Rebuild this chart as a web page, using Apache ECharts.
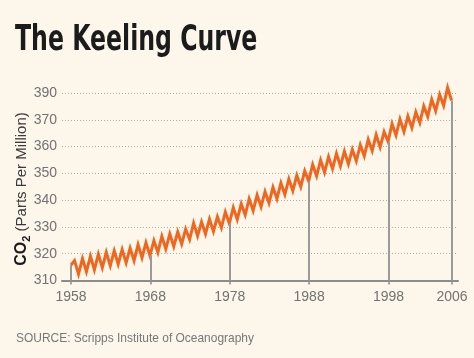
<!DOCTYPE html>
<html>
<head>
<meta charset="utf-8">
<script src="https://cdn.jsdelivr.net/npm/echarts@6/dist/echarts.min.js"></script>
<style>
  html, body { margin: 0; padding: 0; background: #fdf6eb; }
  #chart { width: 474px; height: 358px; }
</style>
</head>
<body>
<div id="chart"></div>
<script>
// ---- Data ----
const titleText = 'The Keeling Curve';
const sourceText = 'SOURCE: Scripps Institute of Oceanography';
const firstYear = 1958;
const startValue = 315.8;           // value at the very start of 1958
// seasonal maxima (around mid-year) per year, 1958..2005
const peakValues = [
  317.4, 318.2, 319.1, 319.8, 320.5, 321.1, 321.6, 322.1, 323.4, 324.1,
  324.9, 326.5, 327.4, 328.1, 329.2, 331.4, 331.9, 332.9, 333.8, 335.6,
  337.2, 338.6, 340.5, 341.9, 343.2, 344.8, 346.4, 347.9, 349.2, 350.9,
  353.3, 354.9, 356.2, 357.4, 358.2, 358.9, 360.6, 362.6, 364.4, 365.5,
  368.5, 370.2, 371.3, 372.9, 375.1, 377.6, 379.4, 382.0
];
// seasonal minima (around year end) per year, 1958..2005
const troughValues = [
  312.4, 313.3, 314.0, 314.8, 315.5, 316.1, 316.6, 317.4, 318.5, 319.3,
  320.5, 321.8, 322.7, 323.6, 325.3, 326.6, 327.4, 328.3, 329.7, 331.3,
  332.8, 334.5, 336.1, 337.5, 338.9, 340.5, 342.1, 343.5, 345.0, 347.1,
  349.0, 350.4, 351.7, 352.7, 353.5, 354.6, 356.5, 358.4, 359.8, 361.9,
  364.2, 365.6, 367.0, 368.9, 371.2, 373.3, 375.3, 377.2
];
const peakOffset = 0.45;   // time of year of the maximum
const troughOffset = 0.95; // time of year of the minimum
const xTickYears = [1958, 1968, 1978, 1988, 1998, 2006];
const yTickValues = [310, 320, 330, 340, 350, 360, 370, 380];
const yTickLabels = ['310', '320', '330', '340', '350', '360', '370', '390'];

// ---- Build series from the arrays ----
const curve = [[firstYear, startValue]];
for (let i = 0; i < peakValues.length; i++) {
  curve.push([firstYear + i + peakOffset, peakValues[i]]);
  curve.push([firstYear + i + troughOffset, troughValues[i]]);
}
function valueNear(year) {
  let best = curve[0];
  for (const p of curve) if (Math.abs(p[0] - year) < Math.abs(best[0] - year)) best = p;
  return best[1];
}
const dropLines = xTickYears.map(y => [
  { coord: [y, yTickValues[0]] },
  { coord: [y, valueNear(y)] }
]);

const chart = echarts.init(document.getElementById('chart'), null, { renderer: 'canvas' });
chart.setOption({
  backgroundColor: '#fdf6eb',
  animation: false,
  grid: { left: 62, right: 16, top: 93, bottom: 77.5 },
  xAxis: {
    type: 'value',
    min: 1956.87,
    max: 2006.76,
    axisLine: { show: true, lineStyle: { color: '#8c8c8c', width: 2 } },
    axisTick: { show: true, length: 4, lineStyle: { color: '#8c8c8c', width: 1.5 }, customValues: xTickYears },
    axisLabel: {
      customValues: xTickYears,
      margin: 10,
      color: '#727272',
      fontFamily: 'Liberation Sans',
      fontSize: 14,
      formatter: v => String(v)
    },
    splitLine: { show: false }
  },
  yAxis: {
    type: 'value',
    min: 310,
    max: 380,
    interval: 10,
    axisLine: { show: false },
    axisTick: { show: false },
    axisLabel: {
      margin: 5,
      color: '#727272',
      fontFamily: 'Liberation Sans',
      fontSize: 14,
      formatter: v => { const i = yTickValues.indexOf(v); return i >= 0 ? yTickLabels[i] : ''; }
    },
    splitLine: { show: true, lineStyle: { color: '#b3aea5', width: 1, type: [1, 2] } }
  },
  series: [
    {
      type: 'line',
      data: [],
      z: 1,
      silent: true,
      markLine: {
        silent: true,
        symbol: ['none', 'none'],
        label: { show: false },
        lineStyle: { color: '#9a9a9a', width: 2, type: 'solid' },
        data: dropLines
      }
    },
    {
      type: 'line',
      data: curve,
      z: 3,
      clip: false,
      showSymbol: false,
      smooth: false,
      lineStyle: { color: '#f0661e', width: 3, join: 'miter' }
    }
  ],
  graphic: [
    {
      type: 'text',
      x: 15, y: 23,
      scaleX: 0.75,
      style: {
        text: titleText,
        font: 'bold 35px "DejaVu Sans Condensed", "DejaVu Sans"',
        fill: '#1b1b1b',
        verticalAlign: 'top'
      }
    },
    {
      type: 'text',
      x: 22, y: 189,
      rotation: Math.PI / 2,
      style: {
        text: '{b|CO}{s|2}{n| (Parts Per Million)}',
        align: 'center',
        verticalAlign: 'middle',
        rich: {
          b: { fontFamily: 'Liberation Sans', fontWeight: 'bold', fontSize: 16, fill: '#1a1a1a', lineHeight: 20, verticalAlign: 'middle' },
          s: { fontFamily: 'Liberation Sans', fontWeight: 'bold', fontSize: 11, fill: '#1a1a1a', lineHeight: 20, verticalAlign: 'bottom' },
          n: { fontFamily: 'Liberation Sans', fontSize: 15, fill: '#3a3a3a', lineHeight: 20, verticalAlign: 'middle' }
        }
      }
    },
    {
      type: 'text',
      x: 16, y: 338,
      scaleX: 0.92,
      style: {
        text: sourceText,
        font: '13px "Liberation Sans"',
        fill: '#777777',
        verticalAlign: 'middle'
      }
    }
  ]
});
</script>
</body>
</html>
